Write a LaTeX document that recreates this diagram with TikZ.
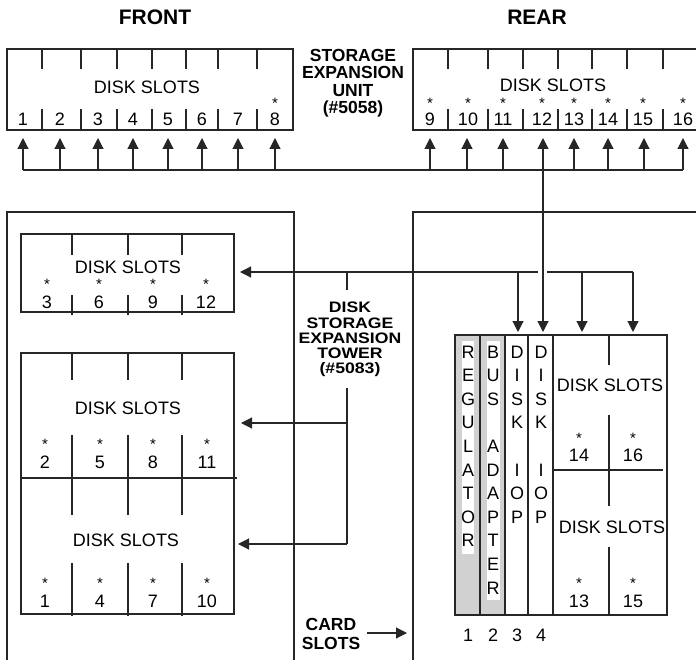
\documentclass[tikz,border=0pt]{standalone}
\usepackage{fontspec}
\setmainfont{Liberation Sans}
\newfontfamily\widesans[FakeStretch=1.16]{Liberation Sans}
\usetikzlibrary{arrows.meta}
\begin{document}
\begin{tikzpicture}[x=1pt,y=-1pt,
  ln/.style={line width=1.15pt, draw=black!85},
  arr/.style={ln,-{Triangle[length=11pt,width=11pt]}},
  txt/.style={inner sep=0pt, font=\fontsize{18}{18}\selectfont},
  ast/.style={inner sep=0pt, font=\fontsize{15}{15}\selectfont},
  lbl/.style={inner sep=0pt, align=center},
  bl/.style={inner sep=0pt, anchor=base, font=\widesans\fontsize{15.2}{15.2}\selectfont\bfseries},
  vt/.style={inner sep=0pt, font=\fontsize{18}{18}\selectfont}]
\useasboundingbox (0,0) rectangle (696,660);

% headings
\node[font=\fontsize{21}{21}\selectfont\bfseries] (front) at (155,17) {FRONT};
\node[font=\fontsize{21}{21}\selectfont\bfseries] (rear) at (537,17) {REAR};

% ---------- storage expansion unit, front ----------
\draw[ln] (7,49) rectangle (293,130);
\foreach \x in {42,81,117,152,186,218,257} {\draw[ln] (\x,49) -- (\x,69) (\x,109) -- (\x,130);}
\node[txt] (fds) at (147,87) {DISK SLOTS};
\foreach \x/\n in {23/1,60/2,98/3,133/4,168/5,202/6,238/7,275/8} {\node[txt] (f\n) at (\x,119) {\n};}
\node[ast] (fa8) at (275,103) {*};
\foreach \x in {23,60,98,133,168,202,238,275} {\draw[arr] (\x,170) -- (\x,138);}
\draw[ln] (23,170) -- (683,170);

% label
\node[lbl, font=\fontsize{17.5}{17.5}\selectfont\bfseries] (seu) at (353,83) {STORAGE\\EXPANSION\\UNIT\\(\#5058)};

% ---------- storage expansion unit, rear ----------
\draw[ln] (697,49) -- (413,49) -- (413,130) -- (697,130);
\foreach \x in {448,488,523,558,592,627,663} {\draw[ln] (\x,49) -- (\x,69) (\x,109) -- (\x,130);}
\node[txt] (rds) at (553,85) {DISK SLOTS};
\foreach \x/\n in {430/9,468/10,503/11,542/12,574/13,608/14,643/15,683/16} {
  \node[txt] (r\n) at (\x,119) {\n};
  \node[ast] (ra\n) at (\x,103) {*};}
\foreach \x in {430,467,503,574,608,644,683} {\draw[arr] (\x,170) -- (\x,138);}
\draw[ln,{Triangle[length=11pt,width=11pt]}-{Triangle[length=11pt,width=11pt]}] (543,138) -- (543,332);

% ---------- tower outlines ----------
\draw[ln] (7,661) -- (7,212) -- (294,212) -- (294,661);
\draw[ln] (413,661) -- (413,212) -- (697,212);

% top small box
\draw[ln] (21,234) rectangle (234,312);
\foreach \x in {72,128,182} {\draw[ln] (\x,234) -- (\x,255) (\x,295) -- (\x,315);}
\node[txt] (tds) at (128,267) {DISK SLOTS};
\foreach \x/\n in {47/3,99/6,153/9,206/12} {
  \node[txt] (t\n) at (\x,302) {\n};
  \node[ast] (ta\n) at (\x,284) {*};}

% middle box
\draw[ln] (21,353) rectangle (234,614);
\draw[ln] (21,478) -- (237,478);
\foreach \x in {72,128,182} {\draw[ln] (\x,353) -- (\x,380) (\x,435) -- (\x,515) (\x,563) -- (\x,616);}
\node[txt] (mds1) at (128,408) {DISK SLOTS};
\node[txt] (mds2) at (126,540) {DISK SLOTS};
\foreach \x/\n/\m in {45/2/1,100/5/4,153/8/7,207/11/10} {
  \node[txt] (m\n) at (\x,462) {\n};
  \node[ast] (ma\n) at (\x,444) {*};
  \node[txt] (m\m) at (\x,601) {\m};
  \node[ast] (ma\m) at (\x,583) {*};}

% tower label and feeds
\node[bl] (tow1) at (350,312.7) {DISK};
\node[bl] (tow2) at (350,328) {STORAGE};
\node[bl] (tow3) at (350,343.3) {EXPANSION};
\node[bl] (tow4) at (350,358.6) {TOWER};
\node[bl] (tow5) at (350,373.9) {(\#5083)};
\draw[arr] (538,272) -- (240,272);
\draw[ln] (547,272) -- (633,272);
\foreach \x in {518,582,633} {\draw[arr] (\x,272) -- (\x,332);}
\draw[ln] (347,272) -- (347,290);
\draw[ln] (347,388) -- (347,544);
\draw[arr] (347,423) -- (241,423);
\draw[arr] (347,544) -- (238,544);

% card slots label
\node[lbl, font=\fontsize{17.5}{18.5}\selectfont\bfseries] (cs) at (331,634) {CARD\\SLOTS};
\draw[arr] (367,633) -- (407,633);

% ---------- card area ----------
\fill[black!18] (455,335) rectangle (505,615);
\fill[white] (462,341) rectangle (474,554);
\fill[white] (487,341) rectangle (500,600);
\draw[ln] (455,335) rectangle (667,615);
\foreach \x in {480,505,528,553} {\draw[ln] (\x,335) -- (\x,615);}
\foreach [count=\i] \c in {R,E,G,U,L,A,T,O,R} {\node[vt] (cr\i) at ({468},{352+23.6*(\i-1)}) {\c};}
\foreach \i/\c in {1/B,2/U,3/S,5/A,6/D,7/A,8/P,9/T,10/E,11/R} {\node[vt] (cb\i) at ({493},{352+23.6*(\i-1)}) {\c};}
\foreach \i/\c in {1/D,2/I,3/S,4/K,6/I,7/O,8/P} {
  \node[vt] (cd\i) at ({517},{352+23.6*(\i-1)}) {\c};
  \node[vt] (ce\i) at ({541},{352+23.6*(\i-1)}) {\c};}
\foreach \x/\n in {468/1,493/2,517/3,541/4} {\node[txt] (cn\n) at (\x,635) {\n};}

% right disk slots
\draw[ln] (553,470) -- (663,470);
\draw[ln] (609,335) -- (609,365) (609,415) -- (609,506) (609,547) -- (609,615);
\node[txt] (cds1) at (610,385) {DISK SLOTS};
\node[txt] (cds2) at (612,527) {DISK SLOTS};
\foreach \x/\n/\m in {579/14/13,633/16/15} {
  \node[txt] (c\n) at (\x,455) {\n};
  \node[ast] (ca\n) at (\x,438) {*};
  \node[txt] (c\m) at (\x,601) {\m};
  \node[ast] (ca\m) at (\x,583) {*};}
\end{tikzpicture}
\end{document}
